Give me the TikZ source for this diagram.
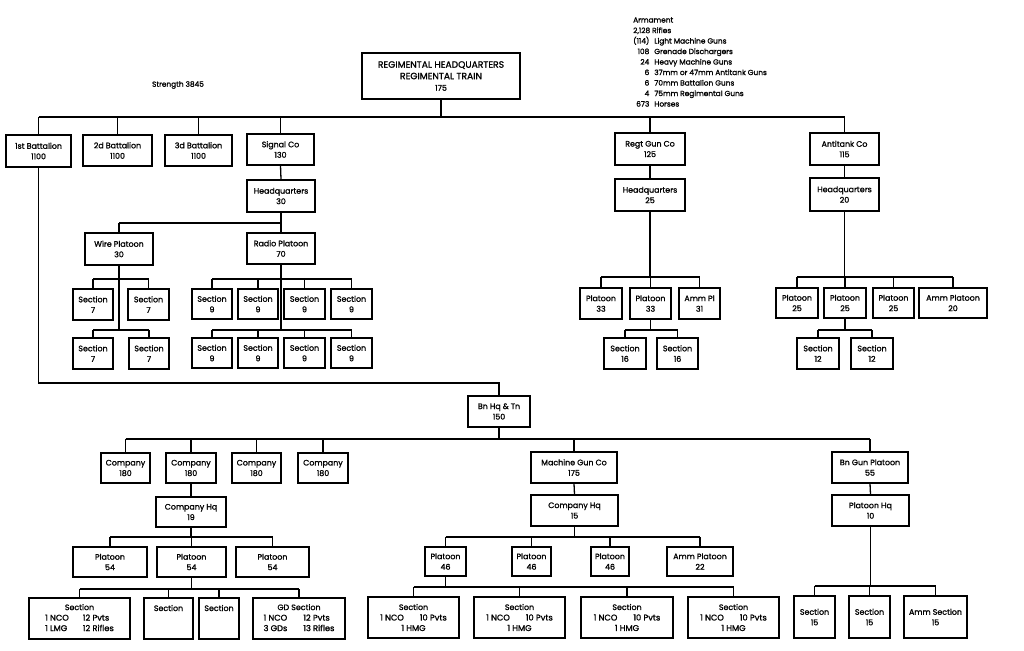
\documentclass[tikz,border=0pt]{standalone}
\usepackage{fontspec}
\setmainfont{Poppins}[FakeBold=1.3]
\newcommand\ob[7][]{%
  \node[bx,#1,minimum width={(#5-#3)*1pt},minimum height={(#6-#4)*1pt}] (#2) at ({(#3+#5)/2},{(#4+#6)/2}) {#7};}
\newcommand\rowf{\fontsize{8.3}{10.5}\selectfont}
\newcommand\titf{\fontsize{7.9}{10.5}\selectfont}
\begin{document}
\begin{tikzpicture}[x=1pt,y=-1pt,
  bx/.style={draw,line width=1.3pt,inner sep=0pt,align=center,font=\fontsize{7.9}{10.5}\selectfont},
  ln/.style={line width=1.3pt},
  txt/.style={inner sep=0pt,font=\fontsize{7.4}{10.5}\selectfont}]
\useasboundingbox (0,0) rectangle (1024,650);
% ---------- texts
\node[txt] (strength) at (178,85) {Strength 3845};
\node[txt,anchor=north west] (arm) at (633,15) {\begin{tabular}{@{}r@{\hspace{5pt}}l@{}}
\multicolumn{2}{@{}l@{}}{Armament}\\
\multicolumn{2}{@{}l@{}}{2,128 Rifles}\\
(114) & Light Machine Guns\\
108 & Grenade Dischargers\\
24 & Heavy Machine Guns\\
6 & 37mm or 47mm Antitank Guns\\
6 & 70mm Battalion Guns\\
4 & 75mm Regimental Guns\\
673 & Horses
\end{tabular}};
% ---------- regiment
\ob[font=\fontsize{9.2}{11.5}\selectfont]{rhq}{362}{53}{520}{99}{REGIMENTAL HEADQUARTERS\\ REGIMENTAL TRAIN\\ {\fontsize{7.9}{11.5}\selectfont 175}}
\ob{b1}{6}{135}{71}{167}{1st Battalion\\ 1100}
\ob{b2}{83}{135}{152}{166}{2d Battalion\\ 1100}
\ob{b3}{165}{135}{232}{166}{3d Battalion\\ 1100}
\ob{sig}{247}{134}{314}{165}{Signal Co\\ 130}
\ob{rg}{615}{133}{685}{165}{Regt Gun Co\\ 125}
\ob{at}{810}{133}{879}{165}{Antitank Co\\ 115}
% ---------- signal company
\ob{sighq}{247}{180}{315}{212}{Headquarters\\ 30}
\ob{wire}{85}{233}{153}{265}{Wire Platoon\\ 30}
\ob{radio}{247}{233}{315}{264}{Radio Platoon\\ 70}
\ob{w1}{73}{289}{113}{320}{Section\\ 7}
\ob{w2}{128}{289}{169}{320}{Section\\ 7}
\ob{w3}{73}{338}{113}{369}{Section\\ 7}
\ob{w4}{129}{338}{169}{369}{Section\\ 7}
\ob{r1}{192}{289}{232}{319}{Section\\ 9}
\ob{r2}{238}{289}{278}{319}{Section\\ 9}
\ob{r3}{284}{289}{325}{319}{Section\\ 9}
\ob{r4}{331}{289}{372}{319}{Section\\ 9}
\ob{r5}{192}{338}{232}{368}{Section\\ 9}
\ob{r6}{238}{338}{278}{368}{Section\\ 9}
\ob{r7}{284}{338}{325}{368}{Section\\ 9}
\ob{r8}{331}{338}{372}{368}{Section\\ 9}
% ---------- regimental gun company
\ob{rghq}{615}{179}{685}{211}{Headquarters\\ 25}
\ob{rgp1}{580}{288}{622}{319}{Platoon\\ 33}
\ob{rgp2}{630}{288}{671}{319}{Platoon\\ 33}
\ob{rgp3}{679}{288}{720}{319}{Amm Pl\\ 31}
\ob{rgs1}{604}{338}{646}{369}{Section\\ 16}
\ob{rgs2}{657}{338}{698}{369}{Section\\ 16}
% ---------- antitank company
\ob{athq}{810}{178}{879}{211}{Headquarters\\ 20}
\ob{atp1}{776}{288}{818}{318}{Platoon\\ 25}
\ob{atp2}{824}{288}{866}{318}{Platoon\\ 25}
\ob{atp3}{873}{288}{914}{318}{Platoon\\ 25}
\ob{atp4}{919}{288}{987}{318}{Amm Platoon\\ 20}
\ob{ats1}{797}{338}{839}{369}{Section\\ 12}
\ob{ats2}{851}{338}{893}{369}{Section\\ 12}
% ---------- battalion
\ob{bn}{468}{396}{530}{427}{Bn Hq \& Tn\\ 150}
\ob{c1}{101}{453}{150}{483}{Company\\ 180}
\ob{c2}{166}{453}{216}{483}{Company\\ 180}
\ob{c3}{232}{453}{281}{483}{Company\\ 180}
\ob{c4}{298}{453}{348}{483}{Company\\ 180}
\ob{chq}{156}{497}{226}{527}{Company Hq\\ 19}
\ob{cp1}{73}{547}{147}{577}{Platoon\\ 54}
\ob{cp2}{157}{547}{226}{577}{Platoon\\ 54}
\ob{cp3}{236}{547}{309}{577}{Platoon\\ 54}
\ob{cs1}{29}{598}{130}{639}{\begin{tabular}{@{}l@{\hspace{14pt}}l@{}}\multicolumn{2}{c}{\titf Section}\\ \rowf 1 NCO & \rowf 12 Pvts\\ \rowf 1 LMG & \rowf 12 Rifles\end{tabular}}
\ob{cs2}{144}{598}{193}{639}{Section\\ ~\\ ~}
\ob{cs3}{199}{598}{239}{639}{Section\\ ~\\ ~}
\ob{cs4}{253}{598}{345}{639}{\begin{tabular}{@{}l@{\hspace{16pt}}l@{}}\multicolumn{2}{c}{\titf GD Section}\\ \rowf 1 NCO & \rowf 12 Pvts\\ \rowf 3 GDs & \rowf 13 Rifles\end{tabular}}
\ob{mg}{531}{452}{617}{483}{Machine Gun Co\\ 175}
\ob{mghq}{531}{495}{618}{526}{Company Hq\\ 15}
\ob{mgp1}{425}{547}{466}{576}{Platoon\\ 46}
\ob{mgp2}{512}{547}{551}{576}{Platoon\\ 46}
\ob{mgp3}{591}{547}{629}{576}{Platoon\\ 46}
\ob{mgp4}{667}{547}{733}{576}{Amm Platoon\\ 22}
\ob{mgs1}{368}{597}{459}{638}{Section\\ {\rowf 1 NCO\hspace{16pt}10 Pvts}\\ {\rowf 1 HMG}}
\ob{mgs2}{474}{597}{565}{638}{Section\\ {\rowf 1 NCO\hspace{16pt}10 Pvts}\\ {\rowf 1 HMG}}
\ob{mgs3}{581}{597}{673}{638}{Section\\ {\rowf 1 NCO\hspace{16pt}10 Pvts}\\ {\rowf 1 HMG}}
\ob{mgs4}{688}{597}{779}{638}{Section\\ {\rowf 1 NCO\hspace{16pt}10 Pvts}\\ {\rowf 1 HMG}}
\ob{bg}{832}{452}{908}{483}{Bn Gun Platoon\\ 55}
\ob{bghq}{832}{495}{909}{526}{Platoon Hq\\ 10}
\ob{bgs1}{794}{596}{835}{638}{Section\\ 15}
\ob{bgs2}{849}{596}{890}{638}{Section\\ 15}
\ob{bgs3}{904}{596}{967}{638}{Amm Section\\ 15}
% ---------- bus coordinates
\coordinate (busR) at (0,117);
\coordinate (busS) at (0,223);
\coordinate (bus1) at (0,279);
\coordinate (bus2) at (0,330);
\coordinate (rg1) at (0,277);
\coordinate (loop) at (0,383);
\coordinate (busB) at (0,439);
\coordinate (busP) at (0,537);
\coordinate (busC) at (0,589);
\coordinate (busM) at (0,587);
\coordinate (busG) at (0,586);
% ---------- connectors: regiment
\draw[ln] (rhq.south) -- (rhq.south |- busR);
\draw[ln] (b1.north |- busR) -- (at.north |- busR);
\foreach \n in {b1,b2,b3,sig,rg,at} \draw[ln] (\n.north) -- (\n.north |- busR);
% signal company
\draw[ln] (sig.south) -- (sighq.north);
\draw[ln] (sighq.south) -- (sighq.south |- busS);
\draw[ln] (wire.north |- busS) -- (radio.north |- busS);
\foreach \n in {wire,radio} \draw[ln] (\n.north) -- (\n.north |- busS);
\draw[ln] (wire.south) -- (wire.south |- bus2);
\draw[ln] (radio.south) -- (radio.south |- bus2);
\draw[ln] (w1.north |- bus1) -- (w2.north |- bus1);
\draw[ln] (w3.north |- bus2) -- (w4.north |- bus2);
\draw[ln] (r1.north |- bus1) -- (r4.north |- bus1);
\draw[ln] (r5.north |- bus2) -- (r8.north |- bus2);
\foreach \n in {w1,w2,r1,r2,r3,r4} \draw[ln] (\n.north) -- (\n.north |- bus1);
\foreach \n in {w3,w4,r5,r6,r7,r8} \draw[ln] (\n.north) -- (\n.north |- bus2);
% regimental gun company
\draw[ln] (rg.south) -- (rghq.north);
\draw[ln] (rghq.south) -- (rghq.south |- rg1);
\draw[ln] (rgp1.north |- rg1) -- (rgp3.north |- rg1);
\foreach \n in {rgp1,rgp2,rgp3} \draw[ln] (\n.north) -- (\n.north |- rg1);
\draw[ln] (rgp2.south) -- (rgp2.south |- bus2);
\draw[ln] (rgs1.north |- bus2) -- (rgs2.north |- bus2);
\foreach \n in {rgs1,rgs2} \draw[ln] (\n.north) -- (\n.north |- bus2);
% antitank company
\draw[ln] (at.south) -- (athq.north);
\draw[ln] (athq.south) -- (athq.south |- rg1);
\draw[ln] (atp1.north |- rg1) -- (atp4.north |- rg1);
\foreach \n in {atp1,atp2,atp3,atp4} \draw[ln] (\n.north) -- (\n.north |- rg1);
\draw[ln] (atp2.south) -- (atp2.south |- bus2);
\draw[ln] (ats1.north |- bus2) -- (ats2.north |- bus2);
\foreach \n in {ats1,ats2} \draw[ln] (\n.north) -- (\n.north |- bus2);
% battalion
\draw[ln] (b1.south) -- (b1.south |- loop) -| (bn.north);
\draw[ln] (bn.south) -- (bn.south |- busB);
\draw[ln] (c1.north |- busB) -- (bg.north |- busB);
\foreach \n in {c1,c2,c3,c4,mg,bg} \draw[ln] (\n.north) -- (\n.north |- busB);
% rifle company
\draw[ln] (c2.south) -- (chq.north);
\draw[ln] (chq.south) -- (chq.south |- busP);
\draw[ln] (cp1.north |- busP) -- (cp3.north |- busP);
\foreach \n in {cp1,cp2,cp3} \draw[ln] (\n.north) -- (\n.north |- busP);
\draw[ln] (cp2.south) -- (cp2.south |- busC);
\draw[ln] (cs1.north |- busC) -- (cs4.north |- busC);
\foreach \n in {cs1,cs2,cs3,cs4} \draw[ln] (\n.north) -- (\n.north |- busC);
% machine gun company
\draw[ln] (mg.south) -- (mghq.north);
\draw[ln] (mghq.south) -- (mghq.south |- busP);
\draw[ln] (mgp1.north |- busP) -- (mgp4.north |- busP);
\foreach \n in {mgp1,mgp2,mgp3,mgp4} \draw[ln] (\n.north) -- (\n.north |- busP);
\draw[ln] (mgp1.south) -- (mgp1.south |- busM);
\draw[ln] (mgs1.north |- busM) -- (mgs4.north |- busM);
\foreach \n in {mgs1,mgs2,mgs3,mgs4} \draw[ln] (\n.north) -- (\n.north |- busM);
% battalion gun platoon
\draw[ln] (bg.south) -- (bghq.north);
\draw[ln] (bghq.south) -- (bghq.south |- busG);
\draw[ln] (bgs1.north |- busG) -- (bgs3.north |- busG);
\foreach \n in {bgs1,bgs2,bgs3} \draw[ln] (\n.north) -- (\n.north |- busG);
\end{tikzpicture}
\end{document}
